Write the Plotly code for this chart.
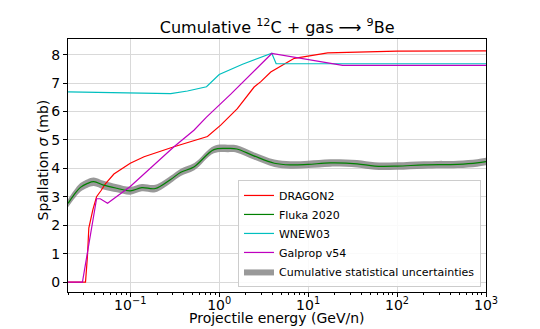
import plotly.graph_objects as go

# Energies in GeV/n, cross sections in mb
dragon_e = [0.020, 0.0314, 0.0330, 0.0342, 0.0380, 0.0418, 0.0470, 0.0525, 0.0655, 0.100, 0.143,
            0.310, 0.738, 1.04, 1.60, 2.47, 2.94, 3.80, 6.40, 7.0, 16.6, 39.3, 100, 1000]
dragon_xs = [0.0, 0.0, 0.9, 1.9, 2.55, 3.0, 3.22, 3.45, 3.80, 4.18, 4.41,
             4.76, 5.12, 5.52, 6.10, 6.86, 7.05, 7.39, 7.80, 7.87, 8.06, 8.10, 8.12, 8.13]

fluka_e = [0.020, 0.0232, 0.0275, 0.0331, 0.0389, 0.0501, 0.0708, 0.100, 0.135, 0.191,
           0.282, 0.37, 0.525, 0.871, 1.26, 1.58, 2.45, 4.17, 6.31, 10, 17.8, 35.5,
           56.2, 100, 200, 479, 794, 1000]
fluka_xs = [2.77, 3.06, 3.33, 3.47, 3.53, 3.41, 3.30, 3.21, 3.32, 3.29,
            3.60, 3.86, 4.06, 4.66, 4.70, 4.68, 4.44, 4.18, 4.12, 4.14, 4.19, 4.16,
            4.08, 4.08, 4.12, 4.14, 4.19, 4.24]
fluka_err = [0.14, 0.15, 0.15, 0.15, 0.15, 0.15, 0.14, 0.14, 0.13, 0.13,
             0.13, 0.13, 0.13, 0.13, 0.13, 0.13, 0.13, 0.13, 0.13, 0.13, 0.13, 0.13,
             0.13, 0.13, 0.13, 0.13, 0.13, 0.13]

wnew_e = [0.020, 0.100, 0.285, 0.44, 0.72, 1.0, 1.35, 1.83, 3.9, 4.37, 1000]
wnew_xs = [6.69, 6.65, 6.63, 6.72, 6.87, 7.30, 7.47, 7.66, 8.05, 7.68, 7.68]

galprop_e = [0.020, 0.029, 0.0418, 0.046, 0.0556, 0.100, 0.310, 0.52, 0.72, 1.35,
             3.9, 24.4, 1000]
galprop_xs = [0.0, 0.0, 2.93, 2.93, 2.77, 3.36, 4.76, 5.34, 5.80, 6.61,
              8.04, 7.62, 7.62]

FONT = "DejaVu Sans"

fig = go.Figure()

# uncertainty band (drawn first so the lines sit on top)
fig.add_trace(go.Scatter(
    x=fluka_e, y=[v - e for v, e in zip(fluka_xs, fluka_err)],
    mode="lines", line=dict(width=0, shape="spline"), showlegend=False,
    hoverinfo="skip"))
fig.add_trace(go.Scatter(
    x=fluka_e, y=[v + e for v, e in zip(fluka_xs, fluka_err)],
    mode="lines", line=dict(width=0, shape="spline"), fill="tonexty",
    fillcolor="rgba(128,128,128,0.8)", name="Cumulative statistical uncertainties",
    legendrank=5))

fig.add_trace(go.Scatter(x=dragon_e, y=dragon_xs, mode="lines", name="DRAGON2",
                         line=dict(color="#ff0000", width=1.2), legendrank=1))
fig.add_trace(go.Scatter(x=fluka_e, y=fluka_xs, mode="lines", name="Fluka 2020",
                         line=dict(color="#008000", width=1.2, shape="spline"), legendrank=2))
fig.add_trace(go.Scatter(x=wnew_e, y=wnew_xs, mode="lines", name="WNEW03",
                         line=dict(color="#00bfbf", width=1.2), legendrank=3))
fig.add_trace(go.Scatter(x=galprop_e, y=galprop_xs, mode="lines", name="Galprop v54",
                         line=dict(color="#bf00bf", width=1.2), legendrank=4))

# minor tick positions on the log axis: 2..9 in every decade
minor_vals = [m * 10 ** d for d in range(-2, 3) for m in range(2, 10)]

# the page adds an 8px body margin, so the figure is sized to the visible area
fig.update_layout(
    width=532, height=321,
    paper_bgcolor="white", plot_bgcolor="white",
    margin=dict(l=60, r=54, t=31, b=37),
    font=dict(family=FONT, color="black", size=14),
    title=dict(text="Cumulative <sup>12</sup>C + gas \u27f6 <sup>9</sup>Be",
               x=0.506, xanchor="center", y=0.94, yanchor="middle",
               font=dict(size=16)),
    legend=dict(x=0.988, y=0.02, xanchor="right", yanchor="bottom", traceorder="normal",
                bgcolor="rgba(255,255,255,0.85)", bordercolor="#cccccc", borderwidth=1,
                font=dict(size=11), tracegroupgap=0, itemwidth=30),
    showlegend=True,
    annotations=[
        dict(text="Projectile energy (GeV/n)", xref="paper", yref="paper",
             x=0.5, y=0, xanchor="center", yanchor="middle", yshift=-26,
             showarrow=False, font=dict(size=14)),
        dict(text="Spallation <i>\u03c3</i> (mb)", xref="paper", yref="paper",
             x=0, y=0.52, xanchor="center", yanchor="middle", xshift=-25,
             textangle=-90, showarrow=False, font=dict(size=14)),
    ],
)

fig.update_xaxes(
    type="log", range=[-1.70, 3.0], automargin=False,
    tickvals=[0.1, 1, 10, 100, 1000],
    ticktext=["10<sup>\u22121</sup>", "10<sup>0</sup>", "10<sup>1</sup>",
              "10<sup>2</sup>", "10<sup>3</sup>"],
    ticks="outside", ticklen=4, tickcolor="black", ticklabelstandoff=-4,
    showline=True, linecolor="black", linewidth=1, mirror=True,
    showgrid=True, gridcolor="#d9d9d9", gridwidth=1, zeroline=False,
    minor=dict(tickvals=minor_vals, ticks="outside", ticklen=2, tickcolor="black",
               showgrid=False),
)
fig.update_yaxes(
    range=[-0.35, 8.55], tickvals=list(range(0, 9)), automargin=False,
    ticks="outside", ticklen=4, tickcolor="black",
    showline=True, linecolor="black", linewidth=1, mirror=True,
    showgrid=True, gridcolor="#d9d9d9", gridwidth=1, zeroline=False,
)

fig.write_html("out.html")
